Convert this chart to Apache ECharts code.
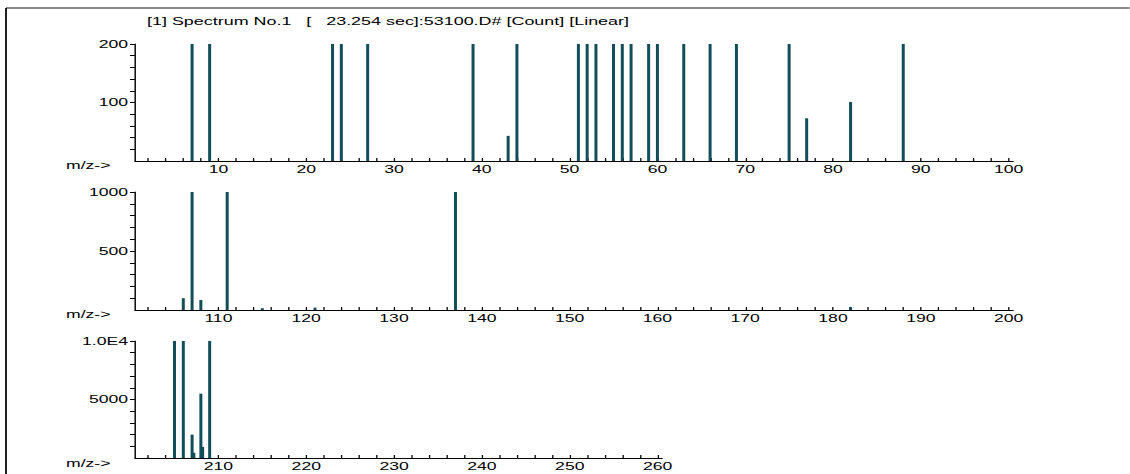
<!DOCTYPE html>
<html>
<head>
<meta charset="utf-8">
<script src="https://cdn.jsdelivr.net/npm/echarts@6.0.0/dist/echarts.min.js"></script>
<style>
  html, body { margin: 0; padding: 0; background: #fff; overflow: hidden; }
  /* the source plot is stretched sideways, so the chart is drawn narrow and widened */
  #main { width: 706.25px; height: 474px; transform: scaleX(1.6); transform-origin: 0 0; }
</style>
</head>
<body>
<div id="main"></div>
<script>
var S = 1.6; // horizontal stretch of the page
var titleText = '[1] Spectrum No.1   [   23.254 sec]:53100.D# [Count] [Linear]';

// m/z and counts, one pair of arrays per panel (tall peaks are clipped at the axis top)
var mz1 = [7, 9, 23, 24, 27, 39, 43, 44, 51, 52, 53, 55, 56, 57, 59, 60, 63, 66, 69, 75, 77, 82, 88];
var count1 = [200, 200, 200, 200, 200, 200, 43, 200, 200, 200, 200, 200, 200, 200, 200, 200, 200, 200, 200, 200, 73, 101, 200];
var mz2 = [106, 107, 108, 111, 115, 121, 137, 182];
var count2 = [100, 1000, 85, 1000, 15, 20, 1000, 25];
var mz3 = [202, 205, 206, 207, 207.2, 208, 208.2, 209];
var count3 = [40, 10000, 10000, 2000, 450, 5500, 950, 10000];

var xLabels1 = [10, 20, 30, 40, 50, 60, 70, 80, 90, 100];
var xLabels2 = [110, 120, 130, 140, 150, 160, 170, 180, 190, 200];
var xLabels3 = [210, 220, 230, 240, 250, 260];
var yLabels1 = [100, 200];
var yLabels2 = [500, 1000];
var yLabels3 = [5000, 10000];

var xRanges = [[0.5, 100.5], [100.5, 200.5], [200.5, 260.5]];
var yMax = [200, 1000, 10000];
var yStep = [20, 100, 1000];

var FONT = 'Liberation Sans';
var barColor = '#124d5a';

function stepValues(from, to, step) {
  var out = [];
  for (var v = from; v <= to + 1e-9; v += step) out.push(v);
  return out;
}

var chartDom = document.getElementById('main');
var myChart = echarts.init(chartDom, null, { renderer: 'svg' });

// layout in page pixels, divided by S because the div is widened afterwards
var grids = [
  { left: 135 / S, top: 44, width: 878 / S, height: 117 },
  { left: 135 / S, top: 192, width: 878 / S, height: 118 },
  { left: 135 / S, top: 341, width: 527 / S, height: 117 }
];
var xLabelSets = [xLabels1, xLabels2, xLabels3];
var yLabelSets = [yLabels1, yLabels2, yLabels3];
var mzSets = [mz1, mz2, mz3];
var countSets = [count1, count2, count3];

var xAxes = [], yAxes = [], series = [];
for (var i = 0; i < 3; i++) {
  var r = xRanges[i];
  xAxes.push({
    type: 'value',
    gridIndex: i,
    min: r[0],
    max: r[1],
    splitLine: { show: false },
    axisLine: { show: true, lineStyle: { color: '#000', width: 1 } },
    axisTick: {
      show: true,
      inside: true,
      length: 3,
      customValues: stepValues(Math.ceil(r[0] / 2) * 2, r[1], 2),
      lineStyle: { color: '#000', width: 0.8 }
    },
    axisLabel: {
      customValues: xLabelSets[i],
      margin: 3,
      color: '#000',
      fontFamily: FONT,
      fontSize: 11
    }
  });
  yAxes.push({
    type: 'value',
    gridIndex: i,
    min: 0,
    max: yMax[i],
    splitLine: { show: false },
    axisLine: { show: true, lineStyle: { color: '#000', width: 0.9 } },
    axisTick: {
      show: true,
      length: 5 / S,
      customValues: stepValues(yStep[i], yMax[i], yStep[i]),
      lineStyle: { color: '#000' }
    },
    axisLabel: {
      customValues: yLabelSets[i],
      margin: 7 / S,
      color: '#000',
      fontFamily: FONT,
      fontSize: 11,
      formatter: function (v) { return v === 10000 ? '1.0E4' : String(v); }
    }
  });
  series.push({
    type: 'bar',
    xAxisIndex: i,
    yAxisIndex: i,
    barWidth: 3 / S,
    silent: true,
    itemStyle: { color: barColor },
    data: mzSets[i].map(function (m, j) { return [m, countSets[i][j]]; })
  });
}

var mzLabelTops = [160, 309, 458];
var graphics = [
  { type: 'line', shape: { x1: 6 / S, y1: 8, x2: 1130 / S, y2: 8 }, style: { stroke: '#888', lineWidth: 2 } },
  { type: 'line', shape: { x1: 6 / S, y1: 8, x2: 6 / S, y2: 474 }, style: { stroke: '#000', lineWidth: 1.1 } },
  { type: 'text', left: 147 / S, top: 15, style: { text: titleText, fill: '#000', font: '11.2px "' + FONT + '"' } }
];
mzLabelTops.forEach(function (t) {
  graphics.push({ type: 'text', left: 66 / S, top: t, style: { text: 'm/z->', fill: '#000', font: '11px "' + FONT + '"' } });
});

var option = {
  animation: false,
  backgroundColor: '#fff',
  grid: grids,
  xAxis: xAxes,
  yAxis: yAxes,
  graphic: graphics,
  series: series
};

option && myChart.setOption(option);
</script>
</body>
</html>
